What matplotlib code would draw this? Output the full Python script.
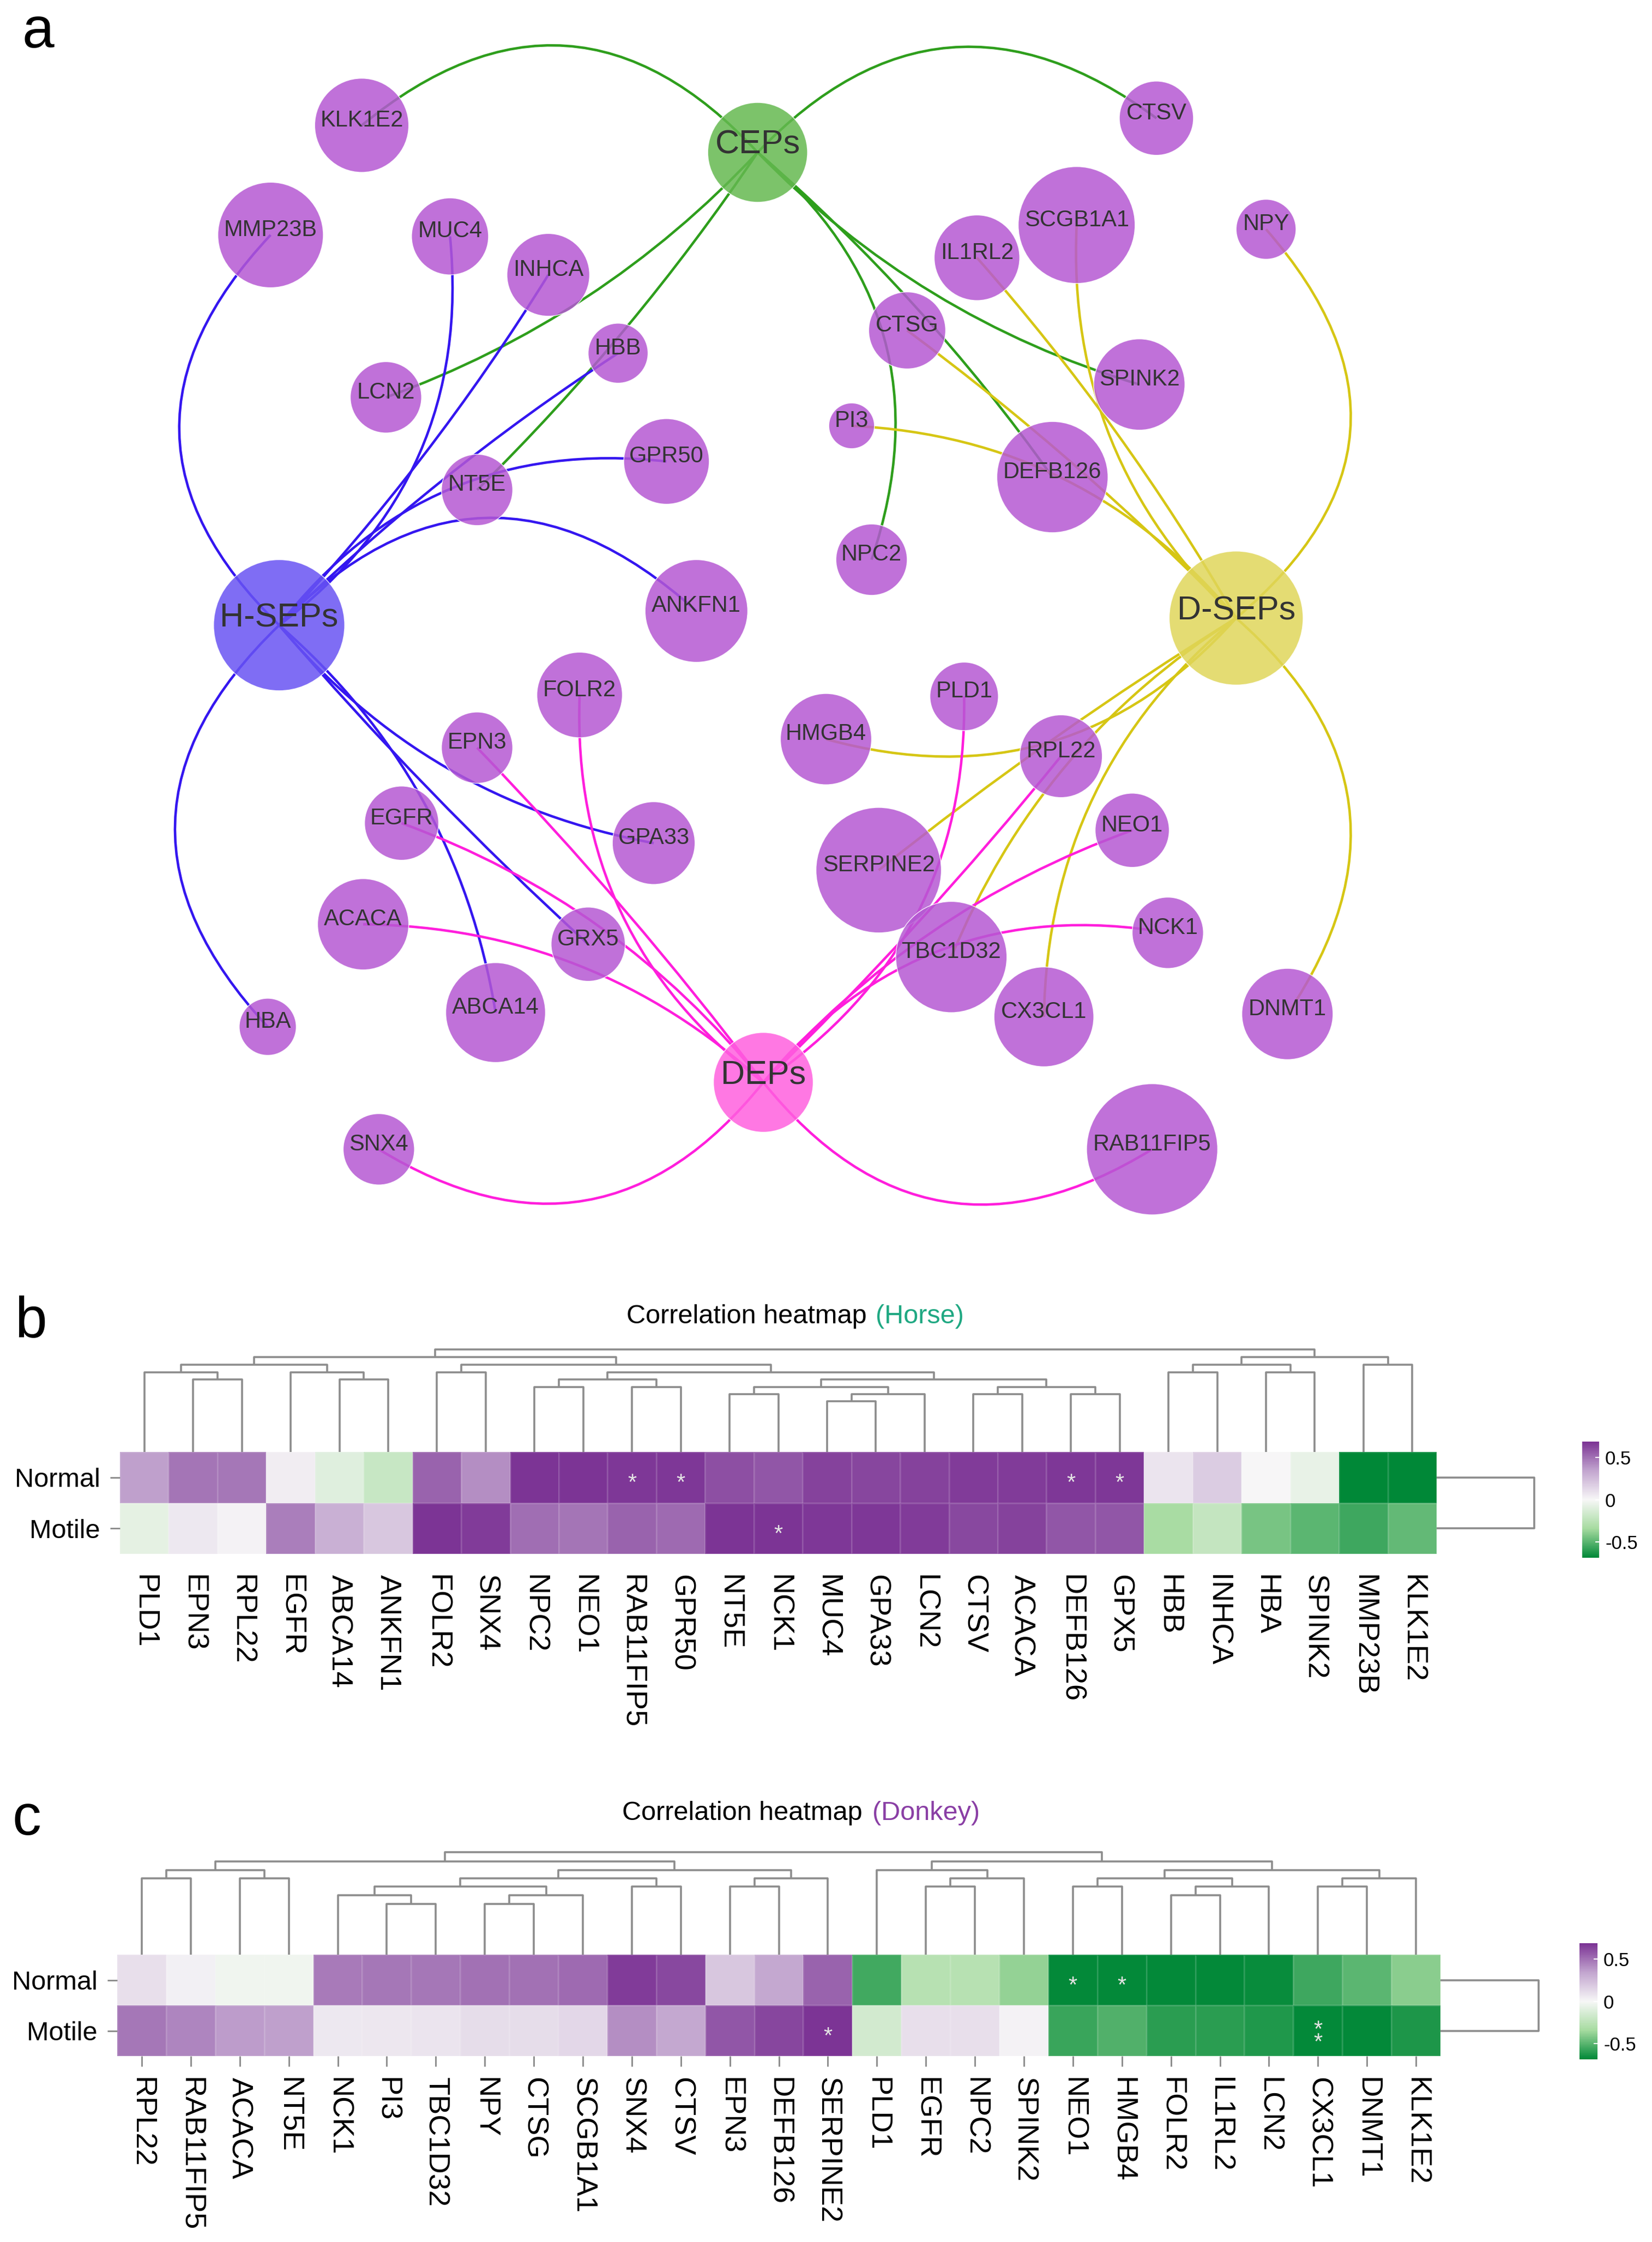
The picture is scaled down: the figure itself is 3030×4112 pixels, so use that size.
# network of secreted proteins (a) + two correlation heatmaps (b, c)

import numpy as np
import matplotlib.pyplot as plt
from matplotlib.patches import Circle, PathPatch
from matplotlib.path import Path
from matplotlib.colors import LinearSegmentedColormap, Normalize
from matplotlib.cm import ScalarMappable

plt.rcParams['font.family'] = ['Liberation Sans', 'DejaVu Sans']

# ---------------- data: network ----------------
hubs = ['CEPs', 'H-SEPs', 'D-SEPs', 'DEPs']
cep_genes = ['KLK1E2', 'CTSV', 'LCN2', 'NT5E', 'NPC2', 'DEFB126', 'SPINK2']
hsep_genes = ['MMP23B', 'MUC4', 'INHCA', 'HBB', 'GPR50', 'ANKFN1', 'HBA',
              'ABCA14', 'GPA33', 'GRX5']
dsep_genes = ['IL1RL2', 'SCGB1A1', 'NPY', 'CTSG', 'PI3', 'HMGB4', 'SERPINE2',
              'TBC1D32', 'CX3CL1', 'DNMT1']
dep_genes = ['SNX4', 'RAB11FIP5', 'FOLR2', 'EPN3', 'EGFR', 'ACACA', 'PLD1',
             'RPL22', 'NEO1', 'NCK1']

# ---------------- data: heatmaps ----------------
rows = ['Normal', 'Motile']

horse_genes = ['PLD1', 'EPN3', 'RPL22', 'EGFR', 'ABCA14', 'ANKFN1', 'FOLR2', 'SNX4',
               'NPC2', 'NEO1', 'RAB11FIP5', 'GPR50', 'NT5E', 'NCK1', 'MUC4', 'GPA33',
               'LCN2', 'CTSV', 'ACACA', 'DEFB126', 'GPX5', 'HBB', 'INHCA', 'HBA',
               'SPINK2', 'MMP23B', 'KLK1E2']
horse_normal = [0.36, 0.49, 0.48, 0.04, -0.10, -0.20, 0.54, 0.41, 0.68, 0.68, 0.67,
                0.67, 0.60, 0.58, 0.64, 0.63, 0.64, 0.66, 0.66, 0.67, 0.67, 0.08,
                0.18, 0.00, -0.06, -0.69, -0.69]
horse_motile = [-0.08, 0.06, 0.02, 0.46, 0.30, 0.20, 0.68, 0.66, 0.51, 0.49, 0.54,
                0.52, 0.68, 0.68, 0.67, 0.67, 0.66, 0.62, 0.64, 0.58, 0.58, -0.33,
                -0.22, -0.44, -0.50, -0.56, -0.48]
horse_sig_normal = {'RAB11FIP5': '*', 'GPR50': '*', 'DEFB126': '*', 'GPX5': '*'}
horse_sig_motile = {'NCK1': '*'}
# column clustering: (left, right, height); ids >= 27 are earlier merges
horse_tree = [(1, 2, 0.71), (0, 27, 0.777), (4, 5, 0.71), (3, 29, 0.777),
              (28, 30, 0.853), (6, 7, 0.777), (8, 9, 0.633), (10, 11, 0.633),
              (33, 34, 0.71), (12, 13, 0.563), (14, 15, 0.495), (37, 16, 0.563),
              (36, 38, 0.633), (17, 18, 0.563), (19, 20, 0.563), (40, 41, 0.633),
              (39, 42, 0.71), (35, 43, 0.777), (32, 44, 0.853), (31, 45, 0.924),
              (21, 22, 0.777), (23, 24, 0.777), (47, 48, 0.853), (25, 26, 0.853),
              (49, 50, 0.924), (46, 51, 1.0)]

donkey_genes = ['RPL22', 'RAB11FIP5', 'ACACA', 'NT5E', 'NCK1', 'PI3', 'TBC1D32', 'NPY',
                'CTSG', 'SCGB1A1', 'SNX4', 'CTSV', 'EPN3', 'DEFB126', 'SERPINE2',
                'PLD1', 'EGFR', 'NPC2', 'SPINK2', 'NEO1', 'HMGB4', 'FOLR2', 'IL1RL2',
                'LCN2', 'CX3CL1', 'DNMT1', 'KLK1E2']
donkey_normal = [0.10, 0.03, -0.03, -0.03, 0.47, 0.48, 0.48, 0.50, 0.50, 0.52, 0.66,
                 0.62, 0.20, 0.33, 0.54, -0.55, -0.27, -0.27, -0.38, -0.68, -0.68,
                 -0.68, -0.68, -0.67, -0.56, -0.50, -0.40]
donkey_motile = [0.48, 0.44, 0.37, 0.36, 0.06, 0.07, 0.08, 0.11, 0.11, 0.13, 0.41,
                 0.33, 0.58, 0.63, 0.68, -0.16, 0.10, 0.10, 0.02, -0.57, -0.52,
                 -0.60, -0.60, -0.62, -0.68, -0.68, -0.63]
donkey_sig_normal = {'NEO1': '*', 'HMGB4': '*'}
donkey_sig_motile = {'SERPINE2': '*', 'CX3CL1': '**'}
donkey_tree = [(0, 1, 0.746), (2, 3, 0.746), (27, 28, 0.827), (5, 6, 0.497),
               (4, 30, 0.579), (7, 8, 0.497), (32, 9, 0.579), (31, 33, 0.664),
               (10, 11, 0.664), (34, 35, 0.746), (12, 13, 0.664), (37, 14, 0.746),
               (36, 38, 0.827), (29, 39, 0.912), (16, 17, 0.664), (41, 18, 0.746),
               (15, 42, 0.827), (19, 20, 0.664), (21, 22, 0.579), (45, 23, 0.664),
               (44, 46, 0.746), (24, 25, 0.664), (48, 26, 0.746), (47, 49, 0.827),
               (43, 50, 0.912), (40, 51, 1.0)]
row_tree = [(0, 1, 1.0)]

# ---------------- network layout (screen units, y down) ----------------
node_xy = {
    'CEPs': (532, 107), 'H-SEPs': (196, 439), 'D-SEPs': (868, 434), 'DEPs': (536, 760),
    'KLK1E2': (254, 88), 'MMP23B': (190, 165), 'MUC4': (316, 166), 'INHCA': (385, 193),
    'HBB': (434, 248), 'LCN2': (271, 279), 'GPR50': (468, 324), 'NT5E': (335, 344),
    'ANKFN1': (489, 429), 'CTSV': (812, 83), 'SCGB1A1': (756, 158), 'IL1RL2': (686, 181),
    'NPY': (889, 161), 'CTSG': (637, 232), 'SPINK2': (800, 270), 'PI3': (598, 299),
    'DEFB126': (739, 335), 'NPC2': (612, 393), 'FOLR2': (407, 488), 'EPN3': (335, 525),
    'EGFR': (282, 578), 'GPA33': (459, 592), 'ACACA': (255, 649), 'GRX5': (413, 663),
    'ABCA14': (348, 711), 'HBA': (188, 721), 'SNX4': (266, 807), 'HMGB4': (580, 519),
    'PLD1': (677, 489), 'RPL22': (745, 531), 'SERPINE2': (617, 611), 'NEO1': (795, 583),
    'NCK1': (820, 655), 'TBC1D32': (668, 672), 'CX3CL1': (733, 714), 'DNMT1': (904, 712),
    'RAB11FIP5': (809, 807),
}
node_r = {
    'CEPs': 35, 'H-SEPs': 46, 'D-SEPs': 47, 'DEPs': 35,
    'KLK1E2': 33, 'MMP23B': 37, 'MUC4': 27, 'INHCA': 29, 'HBB': 21, 'LCN2': 25,
    'GPR50': 30, 'NT5E': 25, 'ANKFN1': 36, 'CTSV': 26, 'SCGB1A1': 41, 'IL1RL2': 30,
    'NPY': 21, 'CTSG': 27, 'SPINK2': 32, 'PI3': 16, 'DEFB126': 39, 'NPC2': 25,
    'FOLR2': 30, 'EPN3': 25, 'EGFR': 26, 'GPA33': 29, 'ACACA': 32, 'GRX5': 26,
    'ABCA14': 35, 'HBA': 20, 'SNX4': 25, 'HMGB4': 32, 'PLD1': 24, 'RPL22': 29,
    'SERPINE2': 44, 'NEO1': 26, 'NCK1': 25, 'TBC1D32': 39, 'CX3CL1': 35, 'DNMT1': 32,
    'RAB11FIP5': 46,
}
# how far each edge bows sideways (fraction of its length)
edge_bend = {
    'KLK1E2': 0.47, 'CTSV': -0.44, 'LCN2': -0.12, 'NT5E': -0.05, 'NPC2': -0.34,
    'DEFB126': -0.06, 'SPINK2': 0.13,
    'MMP23B': -0.49, 'MUC4': 0.28, 'INHCA': 0.05, 'HBB': -0.05, 'GPR50': -0.28,
    'ANKFN1': -0.48, 'HBA': 0.49, 'ABCA14': -0.18, 'GPA33': 0.18, 'GRX5': 0.03,
    'IL1RL2': 0.05, 'SCGB1A1': -0.23, 'NPY': 0.51, 'CTSG': 0.04, 'PI3': 0.22,
    'HMGB4': -0.31, 'SERPINE2': 0.03, 'TBC1D32': 0.16, 'CX3CL1': 0.23, 'DNMT1': -0.44,
    'SNX4': -0.44, 'RAB11FIP5': 0.44, 'FOLR2': -0.26, 'EPN3': 0.03, 'EGFR': 0.14,
    'ACACA': 0.19, 'PLD1': 0.27, 'RPL22': 0.03, 'NEO1': -0.13, 'NCK1': -0.29,
}
hub_fill = {'CEPs': '#65b950', 'H-SEPs': '#6954f3', 'D-SEPs': '#e0d65a', 'DEPs': '#ff60df'}
hub_edge = {'CEPs': '#2e9e1c', 'H-SEPs': '#3416f0', 'D-SEPs': '#d6c614', 'DEPs': '#ff1edc'}
gene_fill = '#b558d3'

fig = plt.figure(figsize=(30.3, 41.12), dpi=100)
H = 4112 / 2.612   # figure height in layout units

# ---------------- panel a ----------------
ax = fig.add_axes([0, 1 - 860 / H, 1, 860 / H])
ax.set_xlim(0, 1160)
ax.set_ylim(860, 0)
ax.axis('off')

hub_lists = [('CEPs', cep_genes), ('H-SEPs', hsep_genes),
             ('D-SEPs', dsep_genes), ('DEPs', dep_genes)]
for hub, genes in hub_lists:
    hx, hy = node_xy[hub]
    for g in genes:
        gx, gy = node_xy[g]
        c = edge_bend[g]
        dx, dy = gx - hx, gy - hy
        cx = (hx + gx) / 2 - c * dy
        cy = (hy + gy) / 2 + c * dx
        p = Path([(hx, hy), (cx, cy), (gx, gy)], [Path.MOVETO, Path.CURVE3, Path.CURVE3])
        ax.add_patch(PathPatch(p, fc='none', ec=hub_edge[hub], lw=3.3, zorder=1))

for name, (x, y) in node_xy.items():
    is_hub = name in hubs
    fc = hub_fill[name] if is_hub else gene_fill
    ax.add_patch(Circle((x, y), node_r[name], fc=fc, ec='white', lw=1,
                        alpha=0.85, zorder=2))
    ax.text(x, y - (5 if is_hub else 3.5), name, ha='center', va='center',
            fontsize=44 if is_hub else 30, color='#333333', zorder=3)


# ---------------- heatmaps ----------------
cmap = LinearSegmentedColormap.from_list(
    'pg', ['#008837', '#a6dba0', '#f7f7f7', '#c2a5cf', '#7b3294'])
norm = Normalize(-0.69, 0.69)
line_col = '#8c8c8c'


def draw_tree(ax, tree, n, horizontal=False):
    xs = {i: i + 0.5 for i in range(n)}
    hs = {i: 0.0 for i in range(n)}
    for k, (a, b, h) in enumerate(tree):
        px = [xs[a], xs[a], xs[b], xs[b]]
        py = [hs[a], h, h, hs[b]]
        if horizontal:
            px, py = py, px
        ax.plot(px, py, color=line_col, lw=2.6, clip_on=False,
                solid_capstyle='butt')
        xs[n + k] = (xs[a] + xs[b]) / 2
        hs[n + k] = h


def heat_panel(genes, normal, motile, sig_n, sig_m, tree, box, tree_box, row_box,
               cb_box, col_ticks):
    n = len(genes)
    W, Ht = 3030, 4112

    def frac(x0, y0, x1, y1):
        return [x0 / W, 1 - y1 / Ht, (x1 - x0) / W, (y1 - y0) / Ht]

    axh = fig.add_axes(frac(*box))
    data = np.array([normal, motile])
    axh.pcolormesh(np.arange(n + 1), [0, 1, 2], data, cmap=cmap, norm=norm,
                   edgecolors=(1, 1, 1, 0.12), linewidth=1)
    axh.set_xlim(0, n)
    axh.set_ylim(2, 0)
    for s in axh.spines.values():
        s.set_visible(False)
    axh.set_yticks([0.5, 1.5])
    axh.set_yticklabels(rows, fontsize=35)
    axh.tick_params(axis='y', length=13, width=2, color='#888888', pad=13)
    axh.set_xticks(np.arange(n) + 0.5)
    axh.set_xticklabels(genes, rotation=-90, fontsize=39, va='top', ha='center')
    if col_ticks:
        axh.tick_params(axis='x', length=14, width=2, color='#888888', pad=14)
    else:
        axh.tick_params(axis='x', length=0, pad=27)

    for r, sig in enumerate([sig_n, sig_m]):
        for g, mark in sig.items():
            i = genes.index(g)
            k = len(mark)
            for j in range(k):
                off = (j - (k - 1) / 2) * 0.25
                axh.text(i + 0.5, r + 0.5 + off + 0.24, '*', ha='center',
                         va='baseline', fontsize=30, color='#e4e4e4')

    axd = fig.add_axes(frac(*tree_box))
    axd.set_xlim(0, n)
    axd.set_ylim(0, 1)
    axd.axis('off')
    draw_tree(axd, tree, n)

    axr = fig.add_axes(frac(*row_box))
    axr.set_xlim(0, 1)
    axr.set_ylim(2, 0)
    axr.axis('off')
    draw_tree(axr, row_tree, 2, horizontal=True)

    cax = fig.add_axes(frac(*cb_box))
    cb = fig.colorbar(ScalarMappable(norm=norm, cmap=cmap), cax=cax,
                      ticks=[-0.5, 0, 0.5])
    cb.ax.set_yticklabels(['-0.5', '0', '0.5'])
    cb.outline.set_visible(False)
    cb.ax.tick_params(length=5, width=1.5, color='white', direction='in',
                      labelsize=25, pad=8)


heat_panel(horse_genes, horse_normal, horse_motile, horse_sig_normal, horse_sig_motile,
           horse_tree, (220, 2663, 2635, 2850), (220, 2475, 2635, 2663),
           (2635, 2663, 2814, 2850), (2902, 2644, 2933, 2857), False)
heat_panel(donkey_genes, donkey_normal, donkey_motile, donkey_sig_normal,
           donkey_sig_motile, donkey_tree, (215, 3585, 2642, 3771),
           (215, 3397, 2642, 3585), (2642, 3585, 2822, 3771),
           (2897, 3564, 2930, 3777), True)

# titles
fig.text(1590 / 3030, 1 - 2427 / 4112, 'Correlation heatmap', ha='right',
         va='baseline', fontsize=35)
fig.text(1606 / 3030, 1 - 2427 / 4112, '(Horse)', ha='left', va='baseline',
         fontsize=35, color='#1fa882')
fig.text(1582 / 3030, 1 - 3338 / 4112, 'Correlation heatmap', ha='right',
         va='baseline', fontsize=35)
fig.text(1600 / 3030, 1 - 3338 / 4112, '(Donkey)', ha='left', va='baseline',
         fontsize=35, color='#8a3fa5')

# panel letters
fig.text(0.0135, 1 - 87 / 4112, 'a', fontsize=76, va='baseline', ha='left')
fig.text(0.0090, 1 - 2452 / 4112, 'b', fontsize=76, va='baseline', ha='left')
fig.text(0.0075, 1 - 3365 / 4112, 'c', fontsize=76, va='baseline', ha='left')

fig.savefig('out.png', dpi=100, facecolor='white')
